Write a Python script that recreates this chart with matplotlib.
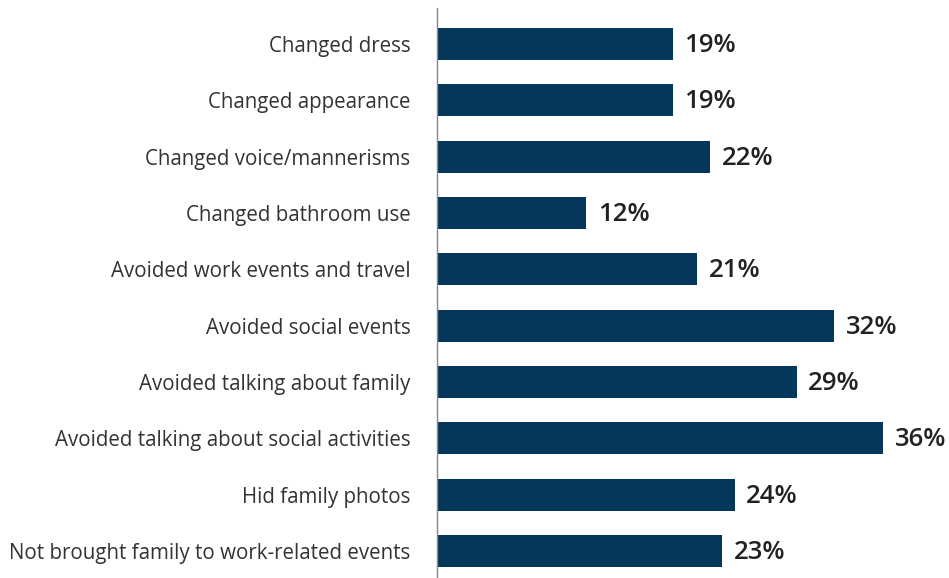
import matplotlib
matplotlib.use("agg")
import matplotlib.pyplot as plt

# data (share of respondents, %)
categories = [
    "Changed dress",
    "Changed appearance",
    "Changed voice/mannerisms",
    "Changed bathroom use",
    "Avoided work events and travel",
    "Avoided social events",
    "Avoided talking about family",
    "Avoided talking about social activities",
    "Hid family photos",
    "Not brought family to work-related events",
]
share = [19, 19, 22, 12, 21, 32, 29, 36, 24, 23]

BAR = "#04375a"
plt.rcParams["font.family"] = ["Open Sans", "DejaVu Sans"]

fig = plt.figure(figsize=(9.49, 5.78), dpi=100)
ax = fig.add_axes([437 / 949, 0.0, 1 - 437 / 949, 570 / 578])

y = list(range(len(categories)))
ax.barh(y, share, height=0.57, color=BAR)
for yi, v in zip(y, share):
    ax.annotate(f"{v}%", (v, yi), xytext=(8.5, -1), textcoords="offset points",
                ha="left", va="center", fontsize=18.5, fontweight="semibold",
                color="#222222")

ax.set_yticks(y)
ax.set_yticklabels(categories, fontsize=14.8, color="#333333")
ax.tick_params(axis="y", length=0, pad=19)
ax.set_xticks([])
ax.set_xlim(0, 41.3)
ax.set_ylim(9.48, -0.64)
for s in ["top", "right", "bottom"]:
    ax.spines[s].set_visible(False)
ax.spines["left"].set_color("#888888")
ax.spines["left"].set_linewidth(1.0)

fig.savefig("out.png", dpi=100)
